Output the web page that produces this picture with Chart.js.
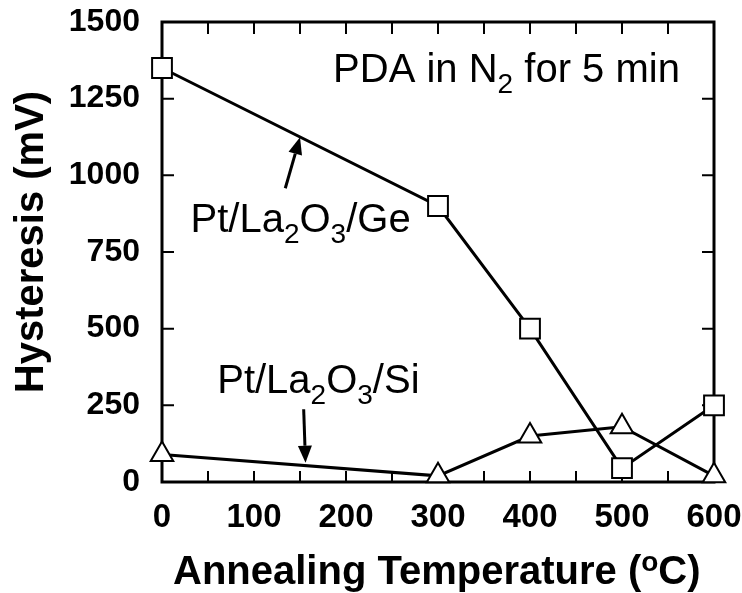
<!DOCTYPE html>
<html>
<head>
<meta charset="utf-8">
<script src="https://cdn.jsdelivr.net/npm/chart.js@4/dist/chart.umd.min.js"></script>
<style>
  body { margin: 0; background: #fff; }
</style>
</head>
<body>
<canvas id="c" width="742" height="593"></canvas>
<script>
const FONT = '"Liberation Sans", Arial, Helvetica, sans-serif';

// data
const temps = [0, 300, 400, 500, 600];          // annealing temperature (oC)
const geHyst = [1350, 900, 500, 45, 250];       // Pt/La2O3/Ge hysteresis (mV)
const siHyst = [90, 20, 150, 180, 20];          // Pt/La2O3/Si hysteresis (mV)

// annotations, in data units
const pdaNote = { x: 186, y: 1305 };
const geNote = { x: 31, y: 816 };
const siNote = { x: 60, y: 291 };
const geArrow = { from: [134, 958], to: [150, 1124] };
const siArrow = { from: [154, 237], to: [156, 63] };

function pts(xs, ys) {
  return xs.map((v, i) => ({ x: v, y: ys[i] }));
}

function richText(ctx, parts, x, y, size, weight) {
  let cx = x;
  parts.forEach(([t, k]) => {
    const s = k ? size * 0.7 : size;
    const dy = k === 'sub' ? size * 0.27 : k === 'sup' ? -size * 0.33 : 0;
    ctx.font = `${weight} ${s}px ${FONT}`;
    ctx.fillText(t, cx, y + dy);
    cx += ctx.measureText(t).width;
  });
  return cx - x;
}

function arrow(ctx, x1, y1, x2, y2) {
  const ang = Math.atan2(y2 - y1, x2 - x1);
  const len = 17, half = 7;
  const bx = x2 - Math.cos(ang) * len, by = y2 - Math.sin(ang) * len;
  ctx.beginPath();
  ctx.moveTo(x1, y1);
  ctx.lineTo(bx, by);
  ctx.stroke();
  ctx.beginPath();
  ctx.moveTo(x2, y2);
  ctx.lineTo(bx + Math.sin(ang) * half, by - Math.cos(ang) * half);
  ctx.lineTo(bx - Math.sin(ang) * half, by + Math.cos(ang) * half);
  ctx.closePath();
  ctx.fill();
}

const frame = {
  id: 'frame',
  beforeDatasetsDraw(chart) {
    const { ctx, chartArea: a, scales: { x, y } } = chart;
    ctx.save();
    ctx.strokeStyle = '#000';
    ctx.lineWidth = 2;
    ctx.beginPath();
    for (let v = 0; v <= 600; v += 50) {
      const px = x.getPixelForValue(v);
      ctx.moveTo(px, a.bottom); ctx.lineTo(px, a.bottom - 11);
      ctx.moveTo(px, a.top); ctx.lineTo(px, a.top + 12);
    }
    for (let v = 0; v <= 1500; v += 250) {
      const py = y.getPixelForValue(v);
      ctx.moveTo(a.left, py); ctx.lineTo(a.left + 12, py);
      ctx.moveTo(a.right, py); ctx.lineTo(a.right - 12, py);
    }
    ctx.stroke();
    ctx.lineWidth = 3;
    ctx.strokeRect(a.left, a.top, a.right - a.left, a.bottom - a.top);
    ctx.restore();
  },
  afterDraw(chart) {
    const { ctx, scales: { x, y } } = chart;
    ctx.save();
    ctx.fillStyle = '#000';
    ctx.strokeStyle = '#000';
    ctx.textBaseline = 'alphabetic';
    ctx.textAlign = 'left';

    // axis titles
    richText(ctx, [['Annealing Temperature ('], ['o', 'sup'], ['C)']], 173, 584, 40, 'bold');
    ctx.save();
    ctx.translate(43, 242);
    ctx.rotate(-Math.PI / 2);
    ctx.textAlign = 'center';
    ctx.font = `bold 40px ${FONT}`;
    ctx.fillText('Hysteresis (mV)', 0, 0);
    ctx.restore();

    // notes
    richText(ctx, [['PDA in N'], ['2', 'sub'], [' for 5 min']],
      x.getPixelForValue(pdaNote.x), y.getPixelForValue(pdaNote.y), 40, 'normal');
    richText(ctx, [['Pt/La'], ['2', 'sub'], ['O'], ['3', 'sub'], ['/Ge']],
      x.getPixelForValue(geNote.x), y.getPixelForValue(geNote.y), 40, 'normal');
    richText(ctx, [['Pt/La'], ['2', 'sub'], ['O'], ['3', 'sub'], ['/Si']],
      x.getPixelForValue(siNote.x), y.getPixelForValue(siNote.y), 40, 'normal');

    ctx.lineWidth = 3;
    [geArrow, siArrow].forEach(a => {
      arrow(ctx,
        x.getPixelForValue(a.from[0]), y.getPixelForValue(a.from[1]),
        x.getPixelForValue(a.to[0]), y.getPixelForValue(a.to[1]));
    });
    ctx.restore();
  }
};

new Chart(document.getElementById('c'), {
  type: 'line',
  data: {
    datasets: [
      {
        label: 'Pt/La2O3/Si',
        data: pts(temps, siHyst),
        borderColor: '#000',
        borderWidth: 3,
        pointStyle: 'triangle',
        pointRadius: 13,
        pointBorderWidth: 2,
        pointBackgroundColor: '#fff',
        pointBorderColor: '#000',
        clip: false
      },
      {
        label: 'Pt/La2O3/Ge',
        data: pts(temps, geHyst),
        borderColor: '#000',
        borderWidth: 3,
        pointStyle: 'rect',
        pointRadius: 14,
        pointBorderWidth: 2,
        pointBackgroundColor: '#fff',
        pointBorderColor: '#000',
        clip: false
      }
    ]
  },
  options: {
    responsive: false,
    animation: false,
    layout: { autoPadding: false, padding: { top: 22, right: 28, left: 0, bottom: 0 } },
    plugins: {
      legend: { display: false },
      tooltip: { enabled: false }
    },
    scales: {
      x: {
        type: 'linear',
        min: 0,
        max: 600,
        ticks: {
          stepSize: 100,
          color: '#000',
          padding: 16,
          callback: v => String(v),
          font: { family: FONT, size: 33, weight: 'bold' }
        },
        grid: { display: false, drawTicks: false },
        border: { display: false },
        afterFit: s => { s.height = 111; s.paddingLeft = 0; s.paddingRight = 0; }
      },
      y: {
        min: 0,
        max: 1500,
        ticks: {
          stepSize: 250,
          color: '#000',
          padding: 22,
          callback: v => String(v),
          font: { family: FONT, size: 32, weight: 'bold' }
        },
        grid: { display: false, drawTicks: false },
        border: { display: false },
        afterFit: s => { s.width = 162; s.paddingTop = 0; s.paddingBottom = 0; }
      }
    }
  },
  plugins: [frame]
});
</script>
</body>
</html>
